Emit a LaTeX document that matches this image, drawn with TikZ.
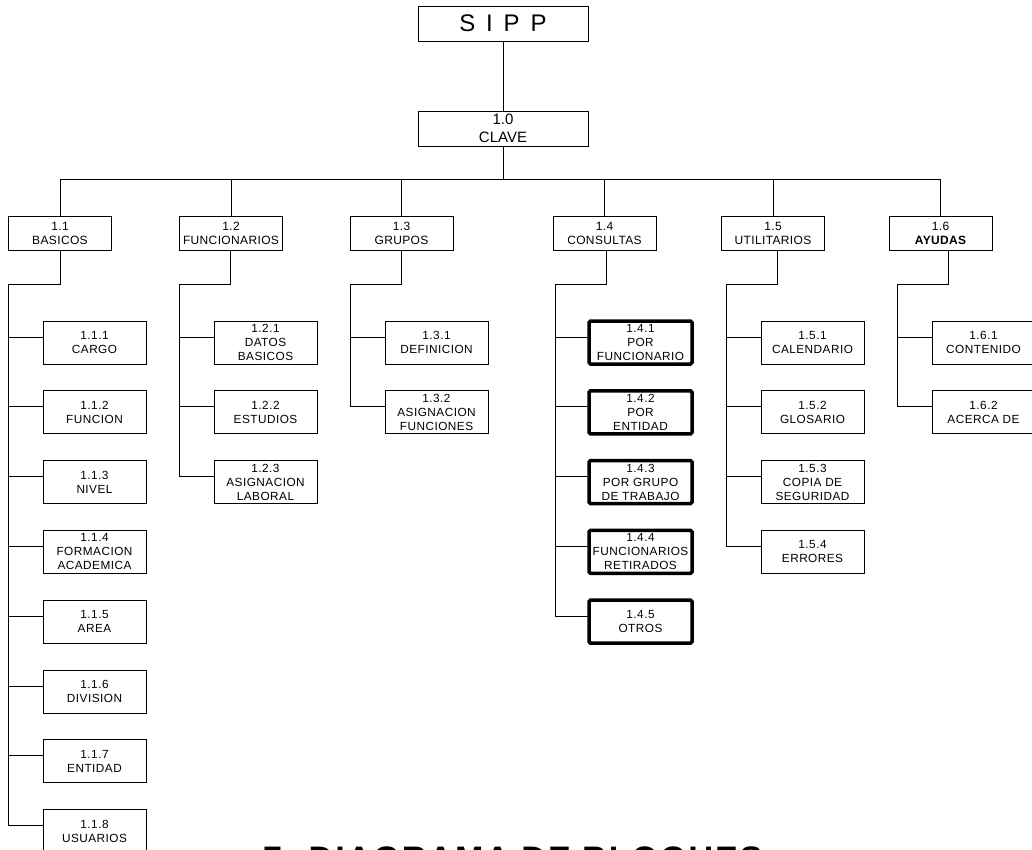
\documentclass[tikz,border=0pt]{standalone}
\usepackage{fontspec}
\setmainfont{Liberation Sans}
\newfontfamily\lsA[LetterSpace=4]{Liberation Sans}
\newfontfamily\lsB[LetterSpace=3]{Liberation Sans}
\newfontfamily\titlefont[LetterSpace=6]{Liberation Sans}
\begin{document}
\begin{tikzpicture}[x=1pt,y=-1pt,
  every node/.style={inner sep=0pt,outer sep=0pt},
  topbox/.style={draw,line width=0.8pt,minimum width=170pt,minimum height=35pt,align=center},
  lone/.style={draw,line width=0.8pt,minimum width=103pt,minimum height=34pt,align=center,font=\lsB\fontsize{12}{14}\selectfont},
  ltwo/.style={draw,line width=0.8pt,minimum width=103pt,minimum height=43pt,align=center,font=\lsA\fontsize{11.8}{14}\selectfont},
  lthick/.style={ltwo,line width=3.5pt,rounded corners=1.5pt},
  wire/.style={line width=1pt}]
\useasboundingbox (0,0) rectangle (1032,850);

% top
\node[topbox,font=\fontsize{24}{28}\selectfont] (sipp) at (503,23.5) {{\spaceskip=.45em\relax S I P P}};
\node[topbox,font=\fontsize{15}{18}\selectfont] (clave) at (503,128.5) {1.0\\CLAVE};
\coordinate (bus) at (503,180);

% level 1
\node[lone] (p1) at (60,233) {1.1\\BASICOS};
\node[lone] (p2) at (231,233) {1.2\\FUNCIONARIOS};
\node[lone] (p3) at (401.5,233) {1.3\\GRUPOS};
\node[lone] (p4) at (604.5,233) {1.4\\CONSULTAS};
\node[lone] (p5) at (773,233) {1.5\\UTILITARIOS};
\node[lone] (p6) at (940.5,233) {1.6\\{\bfseries AYUDAS}};

% trunk tops
\coordinate (t1) at (8,284);
\coordinate (t2) at (179,284);
\coordinate (t3) at (350,284);
\coordinate (t4) at (555,284);
\coordinate (t5) at (726,284);
\coordinate (t6) at (897,284);

% column 1.1
\node[ltwo] (c11) at (94.5,342.5) {1.1.1\\CARGO};
\node[ltwo] (c12) at (94.5,412.3) {1.1.2\\FUNCION};
\node[ltwo] (c13) at (94.5,482.1) {1.1.3\\NIVEL};
\node[ltwo] (c14) at (94.5,551.9) {1.1.4\\FORMACION\\ACADEMICA};
\node[ltwo] (c15) at (94.5,621.7) {1.1.5\\AREA};
\node[ltwo] (c16) at (94.5,691.5) {1.1.6\\DIVISION};
\node[ltwo] (c17) at (94.5,761.3) {1.1.7\\ENTIDAD};
\node[ltwo] (c18) at (94.5,831.1) {1.1.8\\USUARIOS};

% column 1.2
\node[ltwo] (c21) at (265.5,342.5) {1.2.1\\DATOS\\BASICOS};
\node[ltwo] (c22) at (265.5,412.3) {1.2.2\\ESTUDIOS};
\node[ltwo] (c23) at (265.5,482.1) {1.2.3\\ASIGNACION\\LABORAL};

% column 1.3
\node[ltwo] (c31) at (436.5,342.5) {1.3.1\\DEFINICION};
\node[ltwo] (c32) at (436.5,412.3) {1.3.2\\ASIGNACION\\FUNCIONES};

% column 1.4
\node[lthick] (c41) at (640.5,342.5) {1.4.1\\POR\\FUNCIONARIO};
\node[lthick] (c42) at (640.5,412.3) {1.4.2\\POR\\ENTIDAD};
\node[lthick] (c43) at (640.5,482.1) {1.4.3\\POR GRUPO\\DE TRABAJO};
\node[lthick] (c44) at (640.5,551.9) {1.4.4\\FUNCIONARIOS\\RETIRADOS};
\node[lthick] (c45) at (640.5,621.7) {1.4.5\\OTROS};

% column 1.5
\node[ltwo] (c51) at (812.5,342.5) {1.5.1\\CALENDARIO};
\node[ltwo] (c52) at (812.5,412.3) {1.5.2\\GLOSARIO};
\node[ltwo] (c53) at (812.5,482.1) {1.5.3\\COPIA DE\\SEGURIDAD};
\node[ltwo] (c54) at (812.5,551.9) {1.5.4\\ERRORES};

% column 1.6
\node[ltwo] (c61) at (983.5,342.5) {1.6.1\\CONTENIDO};
\node[ltwo] (c62) at (983.5,412.3) {1.6.2\\ACERCA DE};

% connectors top
\draw[wire] (sipp) -- (clave);
\draw[wire] (clave.south) -- (bus);
\foreach \p in {p1,p2,p3,p4,p5,p6} \draw[wire] (\p.north) |- (bus);

% parent to trunk
\draw[wire] (p1.south) |- (t1);
\draw[wire] ([xshift=-1pt]p2.south) |- (t2);
\draw[wire] (p3.south) |- (t3);
\draw[wire] ([xshift=2pt]p4.south) |- (t4);
\draw[wire] ([xshift=4pt]p5.south) |- (t5);
\draw[wire] ([xshift=7.5pt]p6.south) |- (t6);

% branches
\foreach \c in {c11,c12,c13,c14,c15,c16,c17,c18} \draw[wire] (t1) |- ([yshift=5.5pt]\c.west);
\foreach \c in {c21,c22,c23} \draw[wire] (t2) |- ([yshift=5.5pt]\c.west);
\foreach \c in {c31,c32} \draw[wire] (t3) |- ([yshift=5.5pt]\c.west);
\foreach \c in {c41,c42,c43,c44,c45} \draw[wire] (t4) |- ([yshift=5.5pt]\c.west);
\foreach \c in {c51,c52,c53,c54} \draw[wire] (t5) |- ([yshift=5.5pt]\c.west);
\foreach \c in {c61,c62} \draw[wire] (t6) |- ([yshift=5.5pt]\c.west);

% title
\node[font=\titlefont\bfseries\fontsize{34}{40}\selectfont,anchor=base west] (title) at (263,870) {7. DIAGRAMA DE BLOQUES};
\end{tikzpicture}
\end{document}
